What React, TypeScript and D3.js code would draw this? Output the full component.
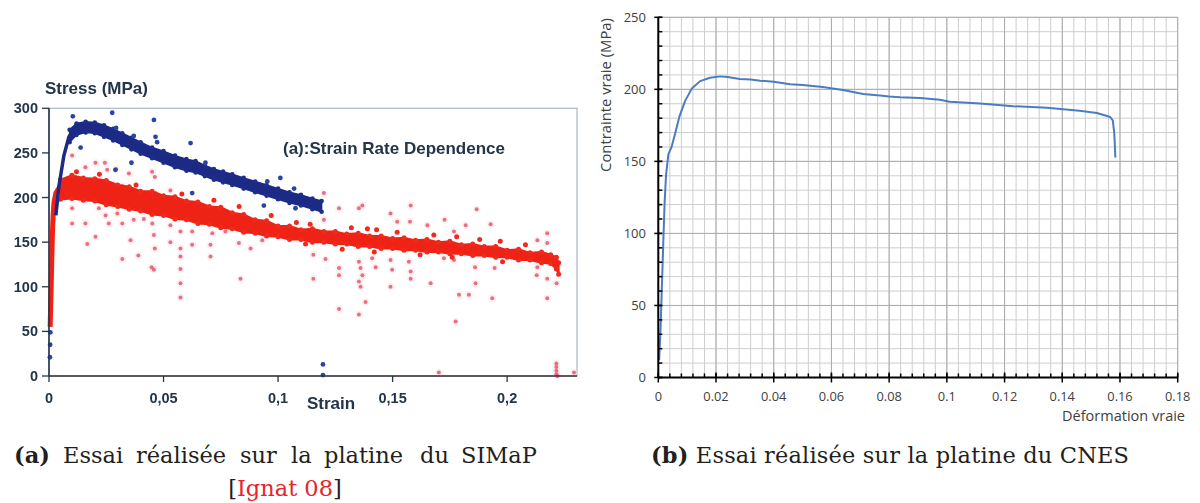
import { useEffect, useRef } from "react";
import { select, scaleLinear, area as d3area, line as d3line, range } from "d3";

// ---------- (a) SIMaP test : stress vs strain ----------
const leftYTicks = [0, 50, 100, 150, 200, 250, 300];
const leftXTicks = [0, 0.05, 0.1, 0.15, 0.2];

// steep initial loading of the red test
const redRise: [number, number][] = [
  [0.0005, 55], [0.0007, 75], [0.0009, 95], [0.0011, 118], [0.0013, 140],
  [0.0015, 160], [0.0018, 180], [0.0022, 195], [0.003, 205], [0.0045, 211], [0.006, 213],
];

// dense red band: strain, lower stress, upper stress
const redBand: [number, number, number][] = [
  [0.005, 198, 220], [0.01, 199, 225], [0.015, 197, 222], [0.02, 196, 221],
  [0.025, 192, 219], [0.03, 190, 214], [0.035, 187, 212], [0.04, 185, 207],
  [0.045, 181, 207], [0.05, 180, 202], [0.055, 176, 201], [0.06, 175, 196],
  [0.065, 171, 195], [0.07, 170, 190], [0.075, 166, 189], [0.08, 165, 183],
  [0.085, 161, 181], [0.09, 160, 175], [0.095, 157, 174], [0.1, 156, 168],
  [0.105, 153, 168], [0.11, 153, 164], [0.115, 150, 165], [0.12, 150, 162],
  [0.125, 148, 162], [0.13, 148, 159], [0.135, 145, 160], [0.14, 145, 157],
  [0.145, 143, 157], [0.15, 143, 154], [0.155, 141, 155], [0.16, 141, 152],
  [0.165, 139, 153], [0.17, 139, 150], [0.175, 137, 151], [0.18, 137, 147],
  [0.185, 135, 148], [0.19, 135, 145], [0.195, 133, 145], [0.2, 133, 141],
  [0.205, 130, 142], [0.21, 130, 138], [0.215, 127, 139], [0.219, 126, 136],
  [0.2215, 120, 133], [0.2225, 114, 127],
];

// small clusters sticking out of the red band
const redEdge: [number, number][] = [
  [0.012, 229], [0.022, 226], [0.038, 214], [0.058, 204], [0.072, 197], [0.083, 190],
  [0.097, 180], [0.108, 172], [0.114, 170], [0.132, 166], [0.139, 165], [0.143, 164],
  [0.152, 161], [0.168, 158], [0.178, 156], [0.188, 153], [0.197, 151], [0.208, 147],
  [0.112, 148], [0.128, 142], [0.142, 139], [0.162, 136], [0.176, 133], [0.198, 128],
];

const redOutliers: [number, number][] = [
  [0.0101, 247], [0.0159, 234], [0.0203, 239], [0.0244, 239], [0.0254, 231], [0.0293, 232],
  [0.0349, 227], [0.045, 229], [0.0462, 223], [0.032, 213], [0.053, 208], [0.0465, 205],
  [0.0101, 188], [0.0101, 171], [0.0159, 171], [0.0167, 148], [0.0203, 156], [0.0218, 188],
  [0.0247, 180], [0.0261, 171], [0.0298, 182], [0.032, 171], [0.032, 131], [0.0356, 152],
  [0.039, 135], [0.037, 175], [0.0414, 176], [0.0451, 171], [0.0458, 158], [0.0462, 143],
  [0.0448, 122], [0.0458, 119], [0.053, 150], [0.053, 169], [0.0574, 162], [0.0574, 143],
  [0.0574, 134], [0.0574, 120], [0.0574, 104], [0.0574, 88], [0.0625, 162], [0.0625, 147],
  [0.0705, 147], [0.0705, 134], [0.0713, 160], [0.077, 162], [0.0829, 149], [0.0836, 109],
  [0.088, 143], [0.0931, 152], [0.0625, 178], [0.0742, 180],
  [0.12, 205], [0.1266, 188], [0.1368, 191], [0.1353, 188], [0.1491, 182], [0.1579, 191],
  [0.1576, 173], [0.152, 173], [0.1652, 169], [0.1727, 175], [0.1819, 169], [0.1867, 187],
  [0.1928, 170], [0.2175, 160], [0.2132, 152], [0.2175, 149], [0.1768, 162], [0.12, 175],
  [0.1154, 136], [0.1154, 109], [0.1207, 131], [0.1266, 121], [0.1266, 113], [0.1266, 75],
  [0.1353, 128], [0.136, 121], [0.1368, 113], [0.1353, 106], [0.136, 100], [0.1382, 83],
  [0.1353, 69], [0.1411, 132], [0.1426, 122], [0.1491, 130], [0.1498, 119], [0.1491, 100],
  [0.1571, 128], [0.1579, 117], [0.1579, 109], [0.1666, 104], [0.1724, 132], [0.1768, 130],
  [0.179, 91], [0.1775, 61], [0.1833, 91], [0.1862, 104], [0.186, 122], [0.1935, 87],
  [0.1945, 121], [0.2132, 122], [0.2129, 113], [0.2175, 109], [0.2175, 87], [0.2216, 104],
  [0.1702, 4], [0.2292, 4], [0.2215, 14], [0.2215, 10], [0.2215, 6], [0.2215, 2], [0.222, 0],
];

const blueRise: [number, number][] = [
  [0.003, 180], [0.0043, 212], [0.0065, 247], [0.0087, 268], [0.0108, 276],
];

const blueBand: [number, number, number][] = [
  [0.009, 262, 276], [0.012, 270, 283], [0.016, 273, 285], [0.02, 272, 284],
  [0.024, 268, 281], [0.028, 264, 277], [0.032, 259, 272], [0.036, 254, 267],
  [0.04, 249, 262], [0.045, 244, 256], [0.05, 239, 252], [0.055, 234, 247],
  [0.06, 230, 243], [0.064, 228, 241], [0.068, 224, 236], [0.072, 220, 232],
  [0.076, 217, 229], [0.08, 214, 226], [0.085, 210, 222], [0.09, 206, 218],
  [0.095, 202, 214], [0.1, 198, 210], [0.105, 194, 206], [0.11, 191, 203],
  [0.115, 187, 199], [0.119, 184, 196],
];

const blueOutliers: [number, number][] = [
  [0.0104, 291], [0.0276, 295], [0.0458, 287], [0.0465, 268], [0.0472, 262], [0.037, 269],
  [0.0293, 278], [0.0138, 256], [0.0618, 261], [0.0683, 239], [0.0625, 205], [0.036, 239],
  [0.029, 231], [0.0938, 191], [0.101, 222], [0.107, 210], [0.1076, 188], [0.0953, 218],
  [0.1196, 13], [0.1196, 1], [0.0006, 49], [0.0005, 35], [0.0004, 21],
];

// ---------- (b) CNES test : true stress vs true strain ----------
const rightYTicks = [0, 50, 100, 150, 200, 250];
const rightXTicks = [0, 0.02, 0.04, 0.06, 0.08, 0.1, 0.12, 0.14, 0.16, 0.18];

const cnesCurve: [number, number][] = [
  [0.0003, 12], [0.0008, 35], [0.0012, 60], [0.0017, 92], [0.0022, 122], [0.0027, 141],
  [0.0035, 155], [0.0046, 160], [0.0058, 169], [0.0073, 181], [0.0093, 192], [0.0116, 200.5],
  [0.0145, 205.7], [0.0179, 208], [0.0214, 209], [0.024, 208.6], [0.0283, 207.2], [0.032, 206.8],
  [0.0353, 206], [0.04, 205.2], [0.0457, 203.5], [0.05, 203], [0.057, 201.6], [0.064, 199.5],
  [0.071, 196.8], [0.0768, 195.8], [0.08, 195], [0.0838, 194.5], [0.0907, 194], [0.0976, 192.8],
  [0.101, 191.4], [0.1115, 190.2], [0.123, 188.3], [0.1347, 187.2], [0.146, 185.2], [0.152, 183.6],
  [0.1555, 181.5], [0.1566, 180.8], [0.1575, 178.5], [0.158, 170], [0.1582, 162], [0.1584, 152.6],
];

const W = 1200;
const H = 503;

export default function App() {
  const svgRef = useRef<SVGSVGElement>(null);

  useEffect(() => {
    const svg = select(svgRef.current);
    svg.selectAll("*").remove();
    svg.append("rect").attr("width", W).attr("height", H).attr("fill", "#fff");

    const defs = svg.append("defs");
    defs
      .append("filter")
      .attr("id", "soft")
      .append("feGaussianBlur")
      .attr("stdDeviation", 0.45);

    // ===================== left chart =====================
    const xL = scaleLinear().domain([0, 0.2305]).range([49, 577]);
    const yL = scaleLinear().domain([0, 300]).range([376, 108.3]);
    const gl = svg.append("g").attr("filter", "url(#soft)");
    const textCol = "#22344a";

    // frame
    gl.append("rect")
      .attr("x", xL(0))
      .attr("y", yL(300))
      .attr("width", xL(0.2305) - xL(0))
      .attr("height", yL(0) - yL(300))
      .attr("fill", "none")
      .attr("stroke", "#a9b8c6")
      .attr("stroke-width", 1.2);

    // red outliers (drawn first, under the band)
    const ro = gl.append("g");
    ro.selectAll("circle.h")
      .data(redOutliers)
      .join("circle")
      .attr("class", "h")
      .attr("cx", (d) => xL(d[0]))
      .attr("cy", (d) => yL(d[1]))
      .attr("r", 3.8)
      .attr("fill", "#f9d3d8")
      .attr("opacity", 0.35);
    ro.selectAll("circle.c")
      .data(redOutliers)
      .join("circle")
      .attr("class", "c")
      .attr("cx", (d) => xL(d[0]))
      .attr("cy", (d) => yL(d[1]))
      .attr("r", 2)
      .attr("fill", "#e2506a")
      .attr("opacity", 0.8);

    // red band
    const bandArea = d3area<[number, number, number]>()
      .x((d) => xL(d[0]))
      .y0((d) => yL(d[1]))
      .y1((d) => yL(d[2]));
    gl.append("path")
      .datum(redBand)
      .attr("d", bandArea)
      .attr("fill", "#ef2117")
      .attr("stroke", "#ef2117")
      .attr("stroke-width", 2);
    gl.append("g")
      .selectAll("circle")
      .data([...redBand.flatMap((d) => [[d[0], d[1]], [d[0], d[2]]]), ...redEdge])
      .join("circle")
      .attr("cx", (d) => xL(d[0]))
      .attr("cy", (d) => yL(d[1]))
      .attr("r", 2.5)
      .attr("fill", "#ef2a1f");

    const ptLine = d3line<[number, number]>()
      .x((d) => xL(d[0]))
      .y((d) => yL(d[1]));
    gl.append("path")
      .datum(redRise)
      .attr("d", ptLine)
      .attr("fill", "none")
      .attr("stroke", "#ef2117")
      .attr("stroke-width", 5);

    // blue band
    gl.append("path")
      .datum(blueBand)
      .attr("d", bandArea)
      .attr("fill", "#1b2a86")
      .attr("stroke", "#1b2a86")
      .attr("stroke-width", 1.5);
    gl.append("g")
      .selectAll("circle")
      .data(blueBand.flatMap((d) => [[d[0], d[1]], [d[0], d[2]]]))
      .join("circle")
      .attr("cx", (d) => xL(d[0]))
      .attr("cy", (d) => yL(d[1]))
      .attr("r", 2.3)
      .attr("fill", "#1f2f8c");
    gl.append("path")
      .datum(blueRise)
      .attr("d", ptLine)
      .attr("fill", "none")
      .attr("stroke", "#1b2a86")
      .attr("stroke-width", 3.5);
    gl.append("g")
      .selectAll("circle")
      .data(blueOutliers)
      .join("circle")
      .attr("cx", (d) => xL(d[0]))
      .attr("cy", (d) => yL(d[1]))
      .attr("r", 2.4)
      .attr("fill", "#2a45a0");

    // axes
    gl.append("line")
      .attr("x1", xL(0)).attr("x2", xL(0))
      .attr("y1", yL(300)).attr("y2", yL(0))
      .attr("stroke", "#23354a").attr("stroke-width", 1.6);
    gl.append("line")
      .attr("x1", xL(0)).attr("x2", xL(0.2305))
      .attr("y1", yL(0)).attr("y2", yL(0))
      .attr("stroke", "#3a3036").attr("stroke-width", 1.4);

    const ly = gl.append("g").selectAll("g").data(leftYTicks).join("g");
    ly.append("line")
      .attr("x1", xL(0) - 7).attr("x2", xL(0))
      .attr("y1", (d) => yL(d)).attr("y2", (d) => yL(d))
      .attr("stroke", "#23354a").attr("stroke-width", 1.3);
    ly.append("text")
      .attr("x", xL(0) - 11)
      .attr("y", (d) => yL(d))
      .attr("dy", "0.35em")
      .attr("text-anchor", "end")
      .attr("font-family", "Liberation Sans, Arial, sans-serif")
      .attr("font-weight", "bold")
      .attr("font-size", 14.5)
      .attr("fill", textCol)
      .text((d) => String(d));

    const lx = gl.append("g").selectAll("g").data(leftXTicks).join("g");
    lx.append("line")
      .attr("x1", (d) => xL(d)).attr("x2", (d) => xL(d))
      .attr("y1", yL(0)).attr("y2", yL(0) + 6)
      .attr("stroke", "#23354a").attr("stroke-width", 1.3);
    lx.append("text")
      .attr("x", (d) => xL(d))
      .attr("y", 398)
      .attr("dy", "0.35em")
      .attr("text-anchor", "middle")
      .attr("font-family", "Liberation Sans, Arial, sans-serif")
      .attr("font-weight", "bold")
      .attr("font-size", 14.5)
      .attr("fill", textCol)
      .text((d) => String(d).replace(".", ","));

    const boldLabel = (x: number, y: number, t: string) =>
      gl.append("text")
        .attr("x", x)
        .attr("y", y)
        .attr("dy", "0.35em")
        .attr("font-family", "Liberation Sans, Arial, sans-serif")
        .attr("font-weight", "bold")
        .attr("font-size", 17)
        .attr("fill", textCol)
        .text(t);
    boldLabel(45, 88, "Stress (MPa)");
    boldLabel(283, 148, "(a):Strain Rate Dependence");
    boldLabel(307, 403, "Strain");

    // ===================== right chart =====================
    const xR = scaleLinear().domain([0, 0.18]).range([658.3, 1177.7]);
    const yR = scaleLinear().domain([0, 250]).range([377.5, 17.3]);
    const gr = svg.append("g");
    const minorX = range(0, 46).map((i) => i * 0.004);
    const minorY = yR.ticks(25);

    gr.append("g")
      .selectAll("line")
      .data(minorX)
      .join("line")
      .attr("x1", (d) => xR(d)).attr("x2", (d) => xR(d))
      .attr("y1", yR(250)).attr("y2", yR(0))
      .attr("stroke", "#cdcdcd").attr("stroke-width", 1);
    gr.append("g")
      .selectAll("line")
      .data(minorY)
      .join("line")
      .attr("x1", xR(0)).attr("x2", xR(0.18))
      .attr("y1", (d) => yR(d)).attr("y2", (d) => yR(d))
      .attr("stroke", "#cdcdcd").attr("stroke-width", 1);
    gr.append("g")
      .selectAll("line")
      .data(rightXTicks)
      .join("line")
      .attr("x1", (d) => xR(d)).attr("x2", (d) => xR(d))
      .attr("y1", yR(250)).attr("y2", yR(0))
      .attr("stroke", "#ababab").attr("stroke-width", 1);
    gr.append("g")
      .selectAll("line")
      .data(rightYTicks)
      .join("line")
      .attr("x1", xR(0)).attr("x2", xR(0.18))
      .attr("y1", (d) => yR(d)).attr("y2", (d) => yR(d))
      .attr("stroke", "#ababab").attr("stroke-width", 1);

    // curve
    const cLine = d3line<[number, number]>()
      .x((d) => xR(d[0]))
      .y((d) => yR(d[1]));
    gr.append("path")
      .datum(cnesCurve)
      .attr("d", cLine)
      .attr("fill", "none")
      .attr("stroke", "#4a7cc0")
      .attr("stroke-width", 2)
      .attr("stroke-linejoin", "round");

    // axes
    gr.append("line")
      .attr("x1", xR(0)).attr("x2", xR(0))
      .attr("y1", yR(250)).attr("y2", yR(0))
      .attr("stroke", "#000").attr("stroke-width", 2);
    gr.append("line")
      .attr("x1", xR(0)).attr("x2", xR(0.18))
      .attr("y1", yR(0)).attr("y2", yR(0))
      .attr("stroke", "#000").attr("stroke-width", 2);
    gr.append("g")
      .selectAll("line")
      .data(minorY)
      .join("line")
      .attr("x1", xR(0)).attr("x2", xR(0) + 4)
      .attr("y1", (d) => yR(d)).attr("y2", (d) => yR(d))
      .attr("stroke", "#000").attr("stroke-width", 1.5);
    gr.append("g")
      .selectAll("line")
      .data(rightYTicks)
      .join("line")
      .attr("x1", xR(0) - 4).attr("x2", xR(0) + 4)
      .attr("y1", (d) => yR(d)).attr("y2", (d) => yR(d))
      .attr("stroke", "#000").attr("stroke-width", 1.5);
    gr.append("g")
      .selectAll("line")
      .data(minorX)
      .join("line")
      .attr("x1", (d) => xR(d)).attr("x2", (d) => xR(d))
      .attr("y1", yR(0) - 4).attr("y2", yR(0))
      .attr("stroke", "#000").attr("stroke-width", 1.5);
    gr.append("g")
      .selectAll("line")
      .data(rightXTicks)
      .join("line")
      .attr("x1", (d) => xR(d)).attr("x2", (d) => xR(d))
      .attr("y1", yR(0) - 5).attr("y2", yR(0) + 5)
      .attr("stroke", "#000").attr("stroke-width", 1.5);

    const rFont = "'Open Sans', Lato, sans-serif";
    gr.append("g")
      .selectAll("text")
      .data(rightYTicks)
      .join("text")
      .attr("x", 646)
      .attr("y", (d) => yR(d))
      .attr("dy", "0.35em")
      .attr("text-anchor", "end")
      .attr("font-family", rFont)
      .attr("font-size", 13)
      .attr("fill", "#404040")
      .text((d) => String(d));
    gr.append("g")
      .selectAll("text")
      .data(rightXTicks)
      .join("text")
      .attr("x", (d) => xR(d))
      .attr("y", 396.5)
      .attr("dy", "0.35em")
      .attr("text-anchor", "middle")
      .attr("font-family", rFont)
      .attr("font-size", 12.8)
      .attr("fill", "#404040")
      .text((d) => String(d));
    gr.append("text")
      .attr("x", 1185)
      .attr("y", 415.5)
      .attr("dy", "0.35em")
      .attr("text-anchor", "end")
      .attr("font-family", rFont)
      .attr("font-size", 14.5)
      .attr("fill", "#404040")
      .text("Déformation vraie");
    gr.append("text")
      .attr("transform", "translate(606,95) rotate(-90)")
      .attr("dy", "0.35em")
      .attr("text-anchor", "middle")
      .attr("font-family", rFont)
      .attr("font-size", 14.8)
      .attr("fill", "#404040")
      .text("Contrainte vraie (MPa)");

    // ===================== captions =====================
    const serif = "'DejaVu Serif', 'Liberation Serif', serif";
    const capA = svg.append("text")
      .attr("y", 455)
      .attr("dy", "0.35em")
      .attr("font-family", serif)
      .attr("font-size", 22.5)
      .attr("fill", "#231f20");
    const wordsA: [string, number][] = [
      ["Essai", 63], ["réalisée", 136], ["sur", 240], ["la", 291],
      ["platine", 324], ["du", 420], ["SIMaP", 461],
    ];
    capA.append("tspan").attr("x", 14).attr("font-weight", "bold").text("(a)");
    wordsA.forEach(([w, x]) => capA.append("tspan").attr("x", x).text(w));

    const ig = svg.append("text")
      .attr("x", 285)
      .attr("y", 488)
      .attr("dy", "0.35em")
      .attr("text-anchor", "middle")
      .attr("font-family", serif)
      .attr("font-size", 22.5)
      .attr("fill", "#231f20");
    ig.append("tspan").text("[");
    ig.append("tspan").attr("fill", "#e4262a").text("Ignat 08");
    ig.append("tspan").text("]");

    const capB = svg.append("text")
      .attr("x", 651)
      .attr("y", 455)
      .attr("dy", "0.35em")
      .attr("font-family", serif)
      .attr("font-size", 22.5)
      .attr("textLength", 478)
      .attr("lengthAdjust", "spacing")
      .attr("fill", "#231f20");
    capB.append("tspan").attr("font-weight", "bold").text("(b)");
    capB.append("tspan").text(" Essai réalisée sur la platine du CNES");
  }, []);

  return (
    <div style={{ position: "absolute", left: 0, top: 0 }}>
      <svg ref={svgRef} width={W} height={H} style={{ display: "block" }} />
    </div>
  );
}
